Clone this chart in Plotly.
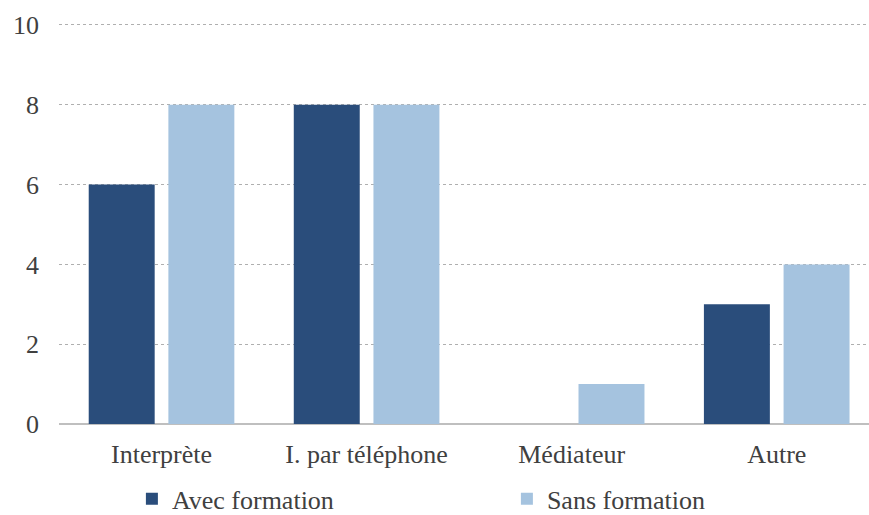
import plotly.graph_objects as go

categories = ["Interprète", "I. par téléphone", "Médiateur", "Autre"]
avec_formation = [6, 8, 0, 3]
sans_formation = [8, 8, 1, 4]
y_ticks = [0, 2, 4, 6, 8, 10]

DARK = "#2A4D7B"
LIGHT = "#A5C3DF"
TEXT = "#404040"
FONT = "Liberation Serif, Times New Roman, serif"

fig = go.Figure()
fig.add_trace(go.Bar(name="Avec formation", x=categories, y=avec_formation,
                     marker=dict(color=DARK, line=dict(width=0))))
fig.add_trace(go.Bar(name="Sans formation", x=categories, y=sans_formation,
                     marker=dict(color=LIGHT, line=dict(width=0))))

fig.update_layout(
    width=869, height=515,
    margin=dict(l=59, r=0, t=21, b=91, autoexpand=False),
    paper_bgcolor="white", plot_bgcolor="white",
    barmode="group", bargap=0.223, bargroupgap=0.172,
    font=dict(family=FONT, size=26, color=TEXT),
    showlegend=True,
    legend=dict(orientation="h", x=0.09, xanchor="left", y=-0.186, yanchor="middle",
                entrywidth=330, entrywidthmode="pixels",
                font=dict(family=FONT, size=26, color=TEXT), traceorder="normal"),
    xaxis=dict(range=[-0.5, 3.45], showgrid=False, showline=False, zeroline=False,
               ticks="", tickfont=dict(family=FONT, size=26, color=TEXT),
               ticklabelstandoff=12, automargin=False),
    yaxis=dict(range=[0, 10.1], tickvals=y_ticks, showgrid=True, gridcolor="#AFAFAF",
               griddash="dot", gridwidth=1, zeroline=True, zerolinecolor="#BFBFBF",
               zerolinewidth=2, showline=False, ticks="", automargin=False,
               tickfont=dict(family=FONT, size=26, color=TEXT), ticklabelstandoff=19),
)

fig.write_html("out.html")
